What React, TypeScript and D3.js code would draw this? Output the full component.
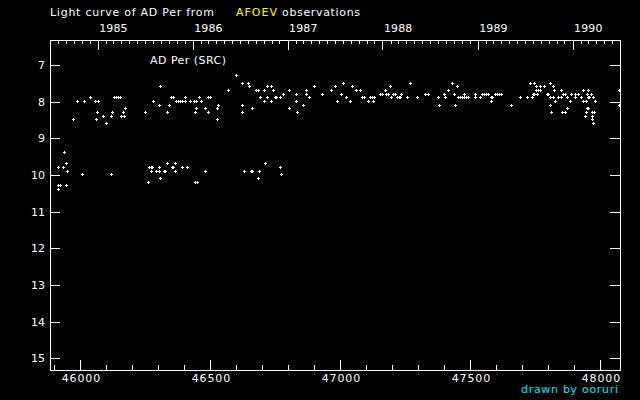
import * as React from 'react';
import * as d3 from 'd3';

// magnitude ticks, JD-2400000 labels, calendar years on top axis
const magTicks = [7, 8, 9, 10, 11, 12, 13, 14, 15];
const jdLabels = [46000, 46500, 47000, 47500, 48000];
const years = [1985, 1986, 1987, 1988, 1989, 1990];

// [JD-2400000, visual magnitude]  -- the ~8 mag (bright) state
const brightObs: [number, number][] = [
  [45973, 8.5], [45988, 8.0], [46015, 8.0], [46038, 7.9], [46059, 8.0], [46069, 8.0], [46065, 8.3],
  [46061, 8.5], [46088, 8.4], [46100, 8.6], [46123, 8.3], [46119, 8.4], [46130, 7.9], [46138, 7.9],
  [46146, 7.9], [46154, 7.9], [46173, 8.2], [46159, 8.4], [46168, 8.4], [46165, 8.3],
  [46250, 8.3], [46280, 8.0], [46304, 8.1], [46307, 7.6], [46334, 8.3], [46342, 8.1], [46350, 7.9],
  [46357, 7.9], [46369, 8.0], [46377, 8.0], [46384, 8.0], [46392, 8.0], [46404, 7.9], [46404, 8.0],
  [46423, 8.0], [46438, 8.0], [46446, 8.0], [46457, 7.9], [46465, 8.0], [46446, 8.2], [46442, 8.3],
  [46480, 8.2], [46492, 8.3], [46492, 7.9], [46500, 7.9], [46527, 8.5], [46527, 8.2], [46530, 8.1],
  [46569, 7.7], [46600, 7.3], [46623, 7.5], [46623, 8.1], [46623, 8.3], [46646, 7.5], [46650, 7.6],
  [46661, 8.2], [46677, 7.7], [46684, 7.7], [46692, 7.9], [46707, 7.7], [46707, 8.0], [46719, 7.6],
  [46719, 7.9], [46734, 7.6], [46734, 8.0], [46742, 7.7], [46750, 7.9], [46754, 7.9], [46769, 7.9],
  [46780, 7.8], [46804, 7.7], [46804, 8.2], [46830, 7.8], [46830, 8.0], [46834, 8.3], [46857, 8.1],
  [46869, 7.7], [46869, 7.8], [46880, 7.9], [46900, 7.6], [46930, 7.8], [46965, 7.7], [46980, 7.6],
  [46988, 8.0], [47004, 7.8], [47011, 7.5], [47023, 7.9], [47038, 8.0], [47046, 7.6], [47061, 7.7],
  [47077, 7.7], [47084, 7.9], [47092, 7.9], [47107, 8.0], [47115, 7.9], [47123, 7.9], [47130, 7.9],
  [47127, 8.0], [47154, 7.8], [47161, 7.8], [47173, 7.7], [47177, 7.8], [47184, 7.8], [47192, 7.6],
  [47196, 7.9], [47204, 7.8], [47211, 7.8], [47219, 7.9], [47227, 7.9], [47230, 7.9], [47234, 7.8],
  [47257, 7.9], [47269, 7.5], [47296, 7.9],
  [47327, 7.8], [47338, 7.8], [47377, 7.9], [47380, 8.1], [47400, 7.8], [47404, 7.9], [47415, 7.7],
  [47431, 7.5], [47438, 7.8], [47442, 8.1], [47450, 7.6], [47454, 7.9], [47461, 7.9], [47469, 7.9],
  [47477, 7.9], [47484, 7.9], [47492, 7.9], [47477, 7.8], [47519, 7.8], [47519, 7.9], [47538, 7.9],
  [47546, 7.8], [47554, 7.8], [47561, 7.8], [47569, 7.8], [47581, 7.9], [47584, 7.9], [47581, 8.0],
  [47596, 7.8], [47604, 7.8], [47611, 7.8], [47619, 7.8], [47657, 8.1], [47692, 7.9], [47719, 7.9],
  [47731, 7.5], [47746, 7.5], [47738, 7.9], [47742, 7.8], [47746, 7.8], [47754, 7.6], [47754, 7.7],
  [47761, 7.7], [47757, 7.8], [47769, 7.6], [47769, 7.7], [47784, 7.6], [47796, 7.8], [47800, 7.8],
  [47807, 7.5], [47807, 7.9], [47819, 7.9], [47807, 8.1], [47811, 8.3], [47819, 7.6], [47823, 7.7],
  [47827, 8.0], [47838, 7.9], [47850, 7.9], [47850, 7.7], [47857, 7.8], [47865, 7.8], [47854, 8.3],
  [47865, 8.3], [47873, 7.9], [47873, 8.2], [47884, 8.0], [47888, 7.8], [47904, 7.8], [47915, 7.8],
  [47904, 7.9], [47927, 7.9], [47934, 7.7], [47934, 8.0], [47946, 8.0], [47942, 8.4], [47946, 8.3],
  [47950, 8.2], [47954, 8.2], [47950, 7.8], [47954, 7.7], [47954, 7.9], [47957, 7.9], [47965, 7.8],
  [47969, 8.3], [47977, 8.3], [47969, 8.4], [47969, 8.5], [47973, 8.6], [47973, 7.9], [47981, 8.0],
  [48074, 7.7], [48074, 8.1],
];

// the ~10 mag (faint) state
const faintObs: [number, number][] = [
  [45938, 9.4], [45915, 9.8], [45934, 9.8], [45946, 9.7], [45950, 9.9], [45915, 10.3], [45923, 10.3],
  [45946, 10.3], [45915, 10.4], [46007, 10.0], [46119, 10.0],
  [46265, 9.8], [46273, 9.8], [46277, 9.8], [46273, 9.9], [46292, 9.9], [46304, 9.8], [46304, 9.9],
  [46323, 9.9], [46327, 9.9], [46334, 9.7], [46354, 9.8], [46357, 9.8], [46365, 9.9], [46365, 9.7],
  [46392, 9.8], [46411, 9.8], [46480, 9.9], [46261, 10.2], [46307, 10.1], [46442, 10.2], [46450, 10.2],
  [46630, 9.9], [46657, 9.9], [46661, 9.9], [46684, 10.1], [46688, 9.9], [46711, 9.7], [46769, 9.8],
  [46773, 10.0],
];

const W = 640;
const H = 400;
const margin = { top: 40, right: 20, bottom: 30, left: 50 };
const font = "'DejaVu Sans', sans-serif";

// JD - 2400000 of a UTC date
const toJD = (d: Date) => d.getTime() / 86400000 + 40587.5;

export default function App() {
  const svgRef = React.useRef<SVGSVGElement>(null);

  React.useEffect(() => {
    const svg = d3.select(svgRef.current);
    svg.selectAll('*').remove();

    const x = d3.scaleLinear().domain([45883, 48075]).range([margin.left, W - margin.right]);
    const y = d3.scaleLinear().domain([6.32, 15.32]).range([margin.top, H - margin.bottom]);
    const x0 = margin.left, x1 = W - margin.right, y0 = margin.top, y1 = H - margin.bottom;

    svg.append('rect').attr('width', W).attr('height', H).attr('fill', '#000');

    // the original is a wide pixel font: stretch DejaVu to about the same widths
    const style = (charW: number) => (g: any) => {
      g.selectAll('path, line').attr('stroke', '#fff').attr('shape-rendering', 'crispEdges');
      g.selectAll('text').attr('fill', '#fff').attr('font-family', font).attr('font-size', 11)
        .each(function (this: SVGTextElement) {
          const s = this.textContent || '';
          if (s && charW) d3.select(this).attr('textLength', s.length * charW).attr('lengthAdjust', 'spacing');
        });
    };

    // bottom: JD axis
    svg.append('g').attr('transform', `translate(0,${y1})`)
      .call(d3.axisBottom(x).tickValues(d3.range(45900, 48001, 100)).tickSizeInner(-5).tickSizeOuter(0).tickFormat(() => ''))
      .call(style(0));
    svg.append('g').attr('transform', `translate(0,${y1})`)
      .call(d3.axisBottom(x).tickValues(jdLabels).tickSizeInner(-10).tickSizeOuter(0).tickPadding(4).tickFormat(d3.format('d')))
      .call(style(7.7));

    // top: calendar axis
    const [d0, d1] = x.domain();
    const months = d3.utcMonth.range(new Date(Date.UTC(1984, 0, 1)), new Date(Date.UTC(1991, 0, 1)))
      .map(toJD).filter((j) => j > d0 && j < d1);
    svg.append('g').attr('transform', `translate(0,${y0})`)
      .call(d3.axisTop(x).tickValues(months).tickSizeInner(-4).tickSizeOuter(0).tickFormat(() => ''))
      .call(style(0));
    const yearJD = years.map((yr) => toJD(new Date(Date.UTC(yr, 0, 1))));
    svg.append('g').attr('transform', `translate(0,${y0})`)
      .call(d3.axisTop(x).tickValues(yearJD).tickSizeInner(-10).tickSizeOuter(0).tickPadding(8)
        .tickFormat((_: any, i: number) => String(years[i])))
      .call(style(7.1))
      .call((g: any) => g.selectAll('text').attr('text-anchor', 'start').attr('dx', 1));

    // left / right: magnitude
    svg.append('g').attr('transform', `translate(${x0},0)`)
      .call(d3.axisLeft(y).tickValues(magTicks).tickSizeInner(-10).tickSizeOuter(0).tickPadding(5))
      .call(style(7));
    svg.append('g').attr('transform', `translate(${x1},0)`)
      .call(d3.axisRight(y).tickValues(magTicks).tickSizeInner(-10).tickSizeOuter(0).tickFormat(() => ''))
      .call(style(0));

    // frame
    svg.append('rect')
      .attr('x', x0 + 0.5).attr('y', y0 + 0.5)
      .attr('width', x1 - x0).attr('height', y1 - y0)
      .attr('fill', 'none').attr('stroke', '#fff').attr('shape-rendering', 'crispEdges');

    // observations as small + marks
    const cross = (d: [number, number]) => {
      const cx = Math.floor(x(d[0])) + 0.5;
      const cy = Math.floor(y(d[1])) + 0.5;
      return `M${cx - 1.5},${cy}H${cx + 1.5}M${cx},${cy - 1.5}V${cy + 1.5}`;
    };
    svg.append('g')
      .selectAll('path')
      .data([...brightObs, ...faintObs])
      .join('path')
      .attr('d', cross)
      .attr('stroke', '#fff')
      .attr('stroke-width', 1)
      .attr('shape-rendering', 'crispEdges');

    // texts
    const txt = (s: string, tx: number, ty: number, len: number, fill = '#fff', anchor = 'start') =>
      svg.append('text').attr('x', tx).attr('y', ty).attr('fill', fill).attr('text-anchor', anchor)
        .attr('font-family', font).attr('font-size', 11)
        .attr('textLength', len).attr('lengthAdjust', 'spacing').text(s);

    txt('Light curve of AD Per from', 50, 16, 164);
    txt('AFOEV', 236, 16, 41, '#ffff00');
    txt('observations', 282, 16, 78);
    txt('AD Per (SRC)', 150, 64, 76);
    txt('drawn by ooruri', 521, 393, 97, '#00e8f0');
  }, []);

  return (
    <svg ref={svgRef} width={W} height={H} style={{ position: 'absolute', left: 0, top: 0 }} />
  );
}
